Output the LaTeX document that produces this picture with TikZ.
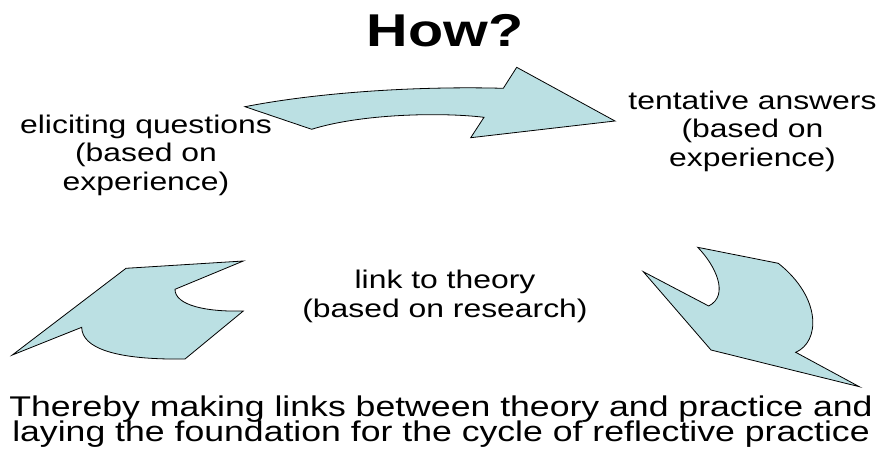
\documentclass[tikz,border=0pt]{standalone}
\usepackage{fontspec}
\setmainfont[FakeStretch=1.25]{Liberation Sans}
\definecolor{arrowfill}{RGB}{187,224,227}
\newcommand\mytightlines{\lineskiplimit=-100pt\relax}
\begin{document}
\begin{tikzpicture}[x=1pt,y=-1pt,
  shapearrow/.style={fill=arrowfill,draw=black,line width=0.8pt,line join=miter},
  textblock/.style={inner sep=0pt,align=center,font=\fontsize{25.5}{28.5}\selectfont\mytightlines},
  titletext/.style={inner sep=0pt,font=\fontsize{46}{50}\selectfont\bfseries},
  footer/.style={inner sep=0pt,align=center,font=\fontsize{28.5}{25}\selectfont\mytightlines}]
\useasboundingbox (0,0) rectangle (880,450);
% top arrow
\draw[shapearrow] (245,106.7) .. controls (320,92) and (420,86) .. (503.3,88.3)
  -- (516.7,67.3) -- (615,121) -- (470.7,137.7) -- (484,117.3)
  .. controls (440,112) and (360,114) .. (311.7,129.3) -- cycle;
% left arrow
\draw[shapearrow] (12.3,355) -- (81.7,327.3) .. controls (82,348) and (115,360) .. (185,359)
  -- (243.3,311) .. controls (205,312) and (175,305) .. (175,289.3)
  -- (243.3,261) -- (126,268.3) -- cycle;
% right arrow
\draw[shapearrow] (859.3,386.7) -- (795.7,352.3) .. controls (820,342) and (822,298) .. (778.3,263.3)
  -- (697.7,247.3) .. controls (715,265) and (730,295) .. (708.7,306)
  -- (643.3,271.7) -- (711,350) -- cycle;
% texts
\node[titletext,anchor=base] (how) at (445,46) {How?};
\node[textblock,anchor=base] (elicit) at (146,190) {eliciting questions\\(based on\\experience)};
\node[textblock,anchor=base] (tent) at (752.5,166) {tentative answers\\(based on\\experience)};
\node[textblock,anchor=base] (link) at (445,317) {link to theory\\(based on research)};
\node[footer,anchor=base] (foot) at (441,441.5) {Thereby making links between theory and practice and\\laying the foundation for the cycle of reflective practice};
\end{tikzpicture}
\end{document}
